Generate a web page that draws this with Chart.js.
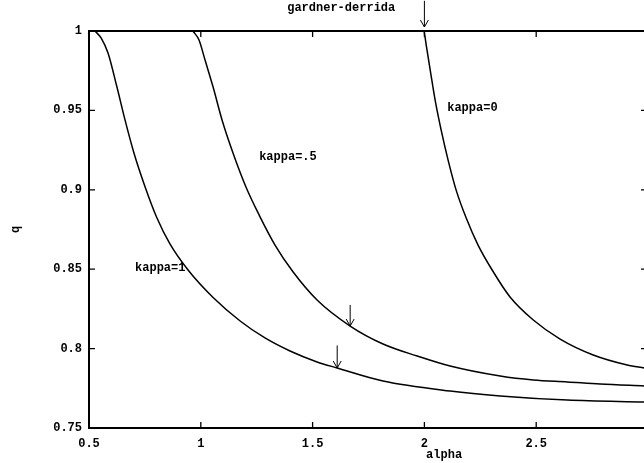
<!DOCTYPE html>
<html>
<head>
<meta charset="utf-8">
<script src="https://cdn.jsdelivr.net/npm/chart.js@4"></script>
<style>
  html, body { margin: 0; padding: 0; background: #fff; overflow: hidden; }
  canvas { display: block; }
</style>
</head>
<body>
<canvas id="chart" width="660" height="463"></canvas>
<script>
// curves (alpha, q)
const kappa1Alpha = [0.527, 0.554, 0.585, 0.625, 0.661, 0.701, 0.751, 0.804, 0.862, 0.943, 1.055, 1.176, 1.287, 1.399, 1.52, 1.61, 1.815, 2.115, 2.339, 2.639, 2.983];
const kappa1Q     = [1.0, 0.9956, 0.9861, 0.9647, 0.944, 0.9232, 0.9018, 0.8822, 0.8659, 0.8495, 0.8322, 0.8174, 0.8067, 0.7985, 0.7916, 0.7878, 0.7796, 0.7733, 0.7702, 0.7676, 0.7664];

const kappaHalfAlpha = [0.965, 0.992, 1.019, 1.055, 1.095, 1.144, 1.202, 1.261, 1.332, 1.413, 1.52, 1.668, 1.815, 1.968, 2.115, 2.339, 2.487, 2.639, 2.786, 2.983];
const kappaHalfQ     = [1.0, 0.9943, 0.9817, 0.9647, 0.944, 0.9232, 0.9018, 0.8841, 0.8652, 0.8482, 0.8306, 0.8142, 0.8029, 0.7953, 0.789, 0.7827, 0.7802, 0.779, 0.7777, 0.7765];

const kappa0Alpha = [1.999, 2.008, 2.026, 2.048, 2.075, 2.106, 2.142, 2.187, 2.24, 2.303, 2.383, 2.487, 2.607, 2.755, 2.907, 2.983];
const kappa0Q     = [1.0, 0.9912, 0.9754, 0.9565, 0.9376, 0.9187, 0.8998, 0.8822, 0.8652, 0.8495, 0.8325, 0.818, 0.806, 0.796, 0.7897, 0.7878];

const xTicks = [0.5, 1, 1.5, 2, 2.5, 3];
const yTicks = [0.75, 0.8, 0.85, 0.9, 0.95, 1];

// text notes on the plot
const noteText  = ['gardner-derrida', 'kappa=0', 'kappa=.5', 'kappa=1'];
const noteAlpha = [1.628, 2.102, 1.261, 0.706];
const noteQ     = [1.0145, 0.9515, 0.9207, 0.8508];
const noteAlign = ['center', 'left', 'left', 'left'];

// arrows pointing at the curves
const arrowAlpha = [2.0, 1.668, 1.61];
const arrowTailQ = [1.019, 0.8275, 0.802];
const arrowTipQ  = [1.0025, 0.8142, 0.7878];

const FONT = 'bold 12px "Liberation Mono", "DejaVu Sans Mono", monospace';

function pts(xs, ys) { return xs.map((v, i) => ({ x: v, y: ys[i] })); }

const extras = {
  id: 'extras',
  afterDraw(chart) {
    const { ctx, chartArea: a, scales: { x, y } } = chart;
    ctx.save();
    ctx.strokeStyle = '#000';
    ctx.fillStyle = '#000';

    // frame
    ctx.lineWidth = 2;
    ctx.strokeRect(a.left, a.top, a.right - a.left, a.bottom - a.top);

    // inward ticks
    ctx.lineWidth = 1.3;
    ctx.beginPath();
    xTicks.forEach(v => {
      const px = x.getPixelForValue(v);
      ctx.moveTo(px, a.bottom); ctx.lineTo(px, a.bottom - 6);
      ctx.moveTo(px, a.top); ctx.lineTo(px, a.top + 6);
    });
    yTicks.forEach(v => {
      const py = y.getPixelForValue(v);
      ctx.moveTo(a.left, py); ctx.lineTo(a.left + 6, py);
      ctx.moveTo(a.right, py); ctx.lineTo(a.right - 7, py);
    });
    ctx.stroke();

    // notes
    ctx.font = FONT;
    ctx.textBaseline = 'middle';
    noteText.forEach((t, i) => {
      ctx.textAlign = noteAlign[i];
      ctx.fillText(t, x.getPixelForValue(noteAlpha[i]), y.getPixelForValue(noteQ[i]));
    });

    // axis titles
    ctx.textAlign = 'center';
    ctx.fillText('alpha', x.getPixelForValue(2.088), chart.height - 8);
    ctx.save();
    ctx.translate(16, y.getPixelForValue(0.875));
    ctx.rotate(-Math.PI / 2);
    ctx.fillText('q', 0, 0);
    ctx.restore();

    // arrows
    ctx.lineWidth = 1;
    arrowAlpha.forEach((v, i) => {
      const px = x.getPixelForValue(v);
      const y0 = y.getPixelForValue(arrowTailQ[i]);
      const y1 = y.getPixelForValue(arrowTipQ[i]);
      ctx.beginPath();
      ctx.moveTo(px, y0); ctx.lineTo(px, y1);
      ctx.moveTo(px - 4, y1 - 7); ctx.lineTo(px, y1); ctx.lineTo(px + 4, y1 - 7);
      ctx.stroke();
    });
    ctx.restore();
  }
};

const lineStyle = {
  borderColor: '#000',
  borderWidth: 1.5,
  pointRadius: 0,
  fill: false,
  cubicInterpolationMode: 'monotone',
  clip: false
};

new Chart(document.getElementById('chart'), {
  type: 'line',
  data: {
    datasets: [
      Object.assign({ label: 'kappa=1', data: pts(kappa1Alpha, kappa1Q) }, lineStyle),
      Object.assign({ label: 'kappa=.5', data: pts(kappaHalfAlpha, kappaHalfQ) }, lineStyle),
      Object.assign({ label: 'kappa=0', data: pts(kappa0Alpha, kappa0Q) }, lineStyle)
    ]
  },
  options: {
    responsive: false,
    animation: false,
    layout: { padding: { top: 31, right: 12, left: 0, bottom: 0 } },
    plugins: { legend: { display: false }, tooltip: { enabled: false } },
    scales: {
      x: {
        type: 'linear',
        min: 0.5, max: 3,
        grid: { display: false, drawTicks: false },
        border: { display: false },
        afterBuildTicks: s => { s.ticks = xTicks.map(v => ({ value: v })); },
        afterFit: s => { s.height = 35; },
        ticks: {
          color: '#000',
          font: { family: '"Liberation Mono", monospace', size: 12, weight: 'bold' },
          padding: 9,
          maxRotation: 0,
          callback: v => (v === 3 ? '' : String(v))
        }
      },
      y: {
        min: 0.75, max: 1,
        grid: { display: false, drawTicks: false },
        border: { display: false },
        afterBuildTicks: s => { s.ticks = yTicks.map(v => ({ value: v })); },
        afterFit: s => { s.width = 89; },
        ticks: {
          color: '#000',
          font: { family: '"Liberation Mono", monospace', size: 12, weight: 'bold' },
          padding: 7,
          callback: v => String(+v.toFixed(2))
        }
      }
    }
  },
  plugins: [extras]
});
</script>
</body>
</html>
